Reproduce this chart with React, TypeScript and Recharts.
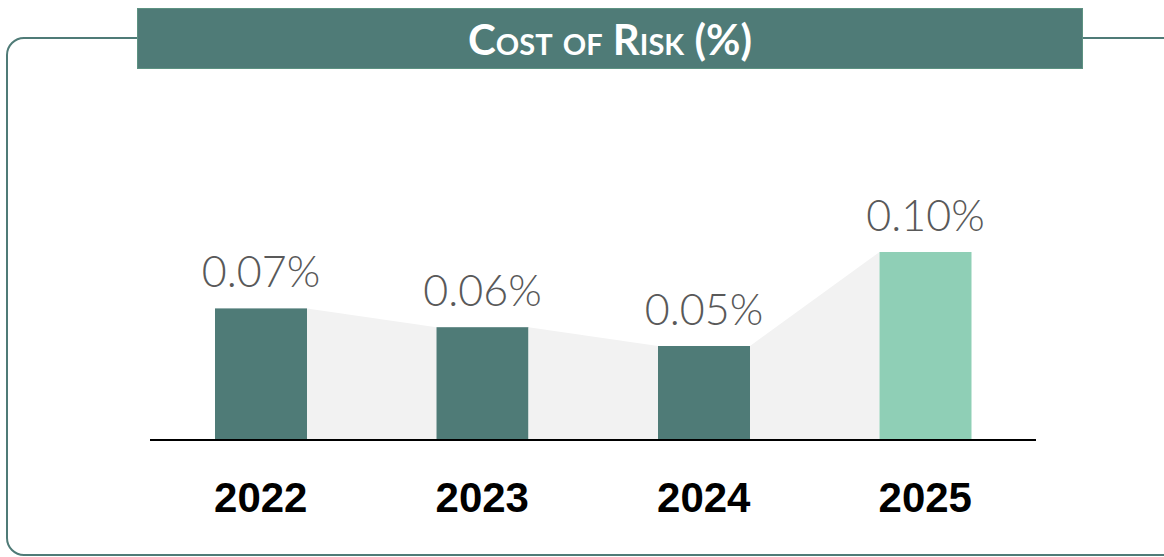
import { BarChart, Bar, XAxis, YAxis, LabelList, Cell } from "recharts";

const years = ["2022", "2023", "2024", "2025"];
const costOfRisk = [0.07, 0.06, 0.05, 0.1];
const valueLabels = ["0.07%", "0.06%", "0.05%", "0.10%"];

const TEAL = "#4f7b77";
const MINT = "#8fcfb6";
const BRIDGE = "#f2f2f2";

const W = 1164;
const H = 557;
const AXIS_H = 30;
const MARGIN = { top: 252, right: 128, bottom: 117 - AXIS_H, left: 150 };
const STEP = (W - MARGIN.left - MARGIN.right) / years.length;

const data = years.map((year, i) => ({
  year,
  value: costOfRisk[i],
  label: valueLabels[i],
}));

// bar + grey bridge back to the previous bar's top
const BridgeBar = (props: any) => {
  const { x, y, width, height, value, index, fill } = props;
  const base = y + height;
  let bridge = null;
  if (index > 0 && value > 0) {
    const prevH = (costOfRisk[index - 1] * height) / value;
    const prevRight = x - STEP + width;
    const pts = [
      `${prevRight},${base - prevH}`,
      `${x},${y}`,
      `${x},${base}`,
      `${prevRight},${base}`,
    ].join(" ");
    bridge = <polygon points={pts} fill={BRIDGE} />;
  }
  return (
    <g>
      {bridge}
      <rect x={x} y={y} width={width} height={height} fill={fill} />
    </g>
  );
};

const ValueLabel = (props: any) => {
  const { x, y, width, value } = props;
  return (
    <text
      x={x + width / 2}
      y={y - 21}
      textAnchor="middle"
      fill="#595959"
      fontFamily="Lato, sans-serif"
      fontWeight={300}
      fontSize={43}>
      {value}
    </text>
  );
};

const YearTick = (props: any) => {
  const { x, y, payload } = props;
  return (
    <text
      x={x}
      y={y + 64}
      textAnchor="middle"
      fill="#000"
      fontFamily="'Liberation Sans', Arial, sans-serif"
      fontWeight="bold"
      fontSize={42}>
      {payload.value}
    </text>
  );
};

export default function App() {
  return (
    <div
      style={{
        position: "absolute",
        left: 0,
        top: 0,
        width: W,
        height: H,
        overflow: "hidden",
        background: "#fff",
      }}>
      {/* frame */}
      <div
        style={{
          position: "absolute",
          left: 6,
          top: 37,
          width: 1220,
          height: 515,
          border: `2px solid ${TEAL}`,
          borderRadius: 18,
        }}
      />
      {/* title */}
      <div
        style={{
          position: "absolute",
          left: 137,
          top: 8,
          width: 944,
          height: 59,
          background: TEAL,
          border: "1px solid #5d9282",
          color: "#fff",
          fontFamily: "Lato, sans-serif",
          fontWeight: 700,
          fontSize: 42,
          fontVariant: "small-caps",
          display: "flex",
          alignItems: "center",
          justifyContent: "center",
        }}>
        Cost of Risk (%)
      </div>
      <div style={{ position: "absolute", left: 0, top: 0 }}>
        <BarChart width={W} height={H} data={data} margin={MARGIN}>
          <XAxis
            dataKey="year"
            height={AXIS_H}
            axisLine={{ stroke: "#000", strokeWidth: 2 }}
            tickLine={false}
            tick={<YearTick />}
            interval={0}
          />
          <YAxis hide domain={[0, 0.1]} />
          <Bar
            dataKey="value"
            barSize={92}
            shape={<BridgeBar />}
            isAnimationActive={false}>
            {data.map((d, i) => (
              <Cell key={d.year} fill={i === data.length - 1 ? MINT : TEAL} />
            ))}
            <LabelList dataKey="label" content={<ValueLabel />} />
          </Bar>
        </BarChart>
      </div>
    </div>
  );
}
